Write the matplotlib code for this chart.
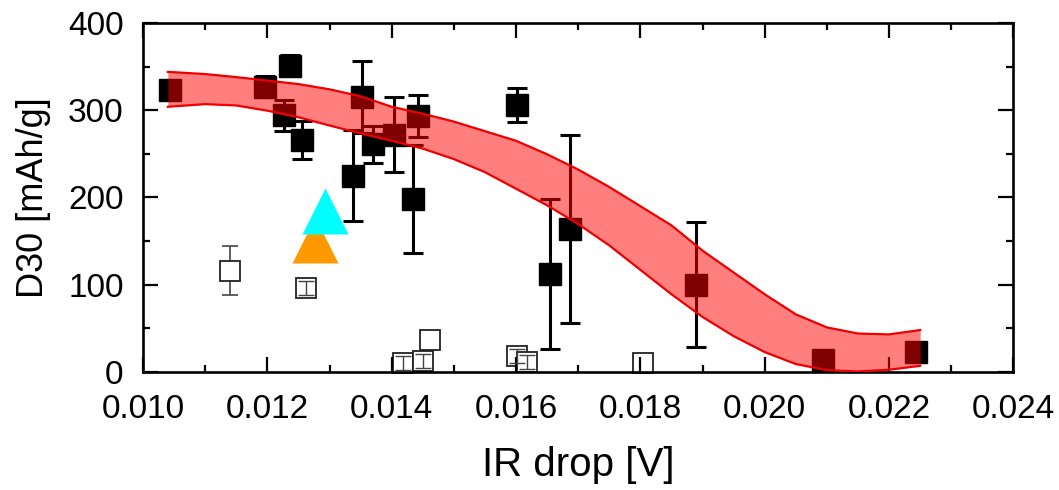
import matplotlib
matplotlib.use("Agg")
import matplotlib.pyplot as plt
from matplotlib.ticker import MultipleLocator, FormatStrFormatter

plt.rcParams['font.family'] = ['Liberation Sans', 'DejaVu Sans']

# filled squares (with error bars)
black_x = [0.01044, 0.01196, 0.01237, 0.01227, 0.01255, 0.01353, 0.01338, 0.01370, 0.01403,
           0.01442, 0.01434, 0.01602, 0.01655, 0.01686, 0.01890, 0.02094, 0.02244]
black_y = [323, 327, 351, 294, 266, 315, 225, 261, 272, 293, 198, 306, 112, 164, 100, 14, 23]
black_err = [0, 12, 12, 18, 22, 41, 52, 21, 43, 24, 62, 20, 86, 108, 72, 0, 0]

# open squares
open_x = [0.01140, 0.01263, 0.01418, 0.01450, 0.01461, 0.01602, 0.01617, 0.01804]
open_y = [116, 96, 10, 13, 37, 18, 11, 10]
open_err = [28, 8, 8, 8, 0, 8, 8, 0]

# triangles
cyan_pt = (0.01292, 184)
orange_pt = (0.01276, 151)

# confidence band of the fit
band_x = [0.0104, 0.0110, 0.0115, 0.0120, 0.0125, 0.0130, 0.0135, 0.0140, 0.0145, 0.0150,
          0.0155, 0.0160, 0.0165, 0.0170, 0.0175, 0.0180, 0.0185, 0.0190, 0.0195, 0.0200,
          0.0205, 0.0210, 0.0215, 0.0220, 0.0225]
band_hi = [344, 341.5, 338, 334, 330, 324, 316, 304, 296, 287,
           276, 265, 249.5, 232, 212, 190, 168, 139, 114, 89,
           66, 51, 44, 43, 48]
band_lo = [304, 307, 305.5, 299.5, 292, 282.5, 273.5, 265, 256, 244,
           229, 210, 191, 169.5, 145, 117, 89, 63, 41, 22.7,
           9, 2, 0.5, 2.5, 7]

fig = plt.figure(figsize=(10.59, 4.9), dpi=100)
ax = fig.add_axes([0.135, 0.241, 0.822, 0.712])

# open squares; the small error bars show on top of the square
big = [i for i, e in enumerate(open_err) if e > 10]
small = [i for i, e in enumerate(open_err) if 0 < e <= 10]
ax.errorbar([open_x[i] for i in big], [open_y[i] for i in big],
            yerr=[open_err[i] for i in big], fmt='none', ecolor='#444444',
            elinewidth=1.2, capsize=5.5, capthick=1.2, zorder=1)
ax.plot(open_x, open_y, 's', ms=15, mfc='white', mec='#222222', mew=1.3,
        ls='none', zorder=1.5, clip_on=False)
ax.errorbar([open_x[i] for i in small], [open_y[i] for i in small],
            yerr=[open_err[i] for i in small], fmt='none', ecolor='#444444',
            elinewidth=1.0, capsize=5.5, capthick=1.0, zorder=1.55, clip_on=False)

# triangles
ax.plot(*orange_pt, '^', ms=33, color='#FF9900', mec='none', zorder=1.6)
ax.plot(*cyan_pt, '^', ms=33, color='#00FFFF', mec='none', zorder=1.7)

# black squares
ax.errorbar(black_x, black_y, yerr=black_err, fmt='none', ecolor='black',
            elinewidth=2.2, capsize=7, capthick=2.2, zorder=2)
ax.plot(black_x, black_y, 's', ms=16, color='black', ls='none', zorder=2.1,
        clip_on=False)

# red band on top
ax.fill_between(band_x, band_lo, band_hi, color='#FF0000', alpha=0.5, lw=0, zorder=3)
ax.plot(band_x, band_hi, color='#EE0000', lw=1.6, zorder=3.1)
ax.plot(band_x, band_lo, color='#EE0000', lw=1.6, zorder=3.1)

ax.set_xlim(0.010, 0.024)
ax.set_ylim(0, 400)
ax.xaxis.set_major_locator(MultipleLocator(0.002))
ax.xaxis.set_minor_locator(MultipleLocator(0.001))
ax.xaxis.set_major_formatter(FormatStrFormatter('%.3f'))
ax.yaxis.set_major_locator(MultipleLocator(100))
ax.yaxis.set_minor_locator(MultipleLocator(50))

ax.tick_params(which='both', direction='in', top=True, right=True, width=1.6)
ax.tick_params(which='major', length=11, labelsize=24)
ax.tick_params(which='minor', length=5)
ax.tick_params(axis='x', which='major', pad=16)
ax.tick_params(axis='y', which='major', pad=14)
for s in ax.spines.values():
    s.set_linewidth(1.9)

ax.set_xlabel('IR drop [V]', fontsize=29, labelpad=15)
ax.set_ylabel('D30 [mAh/g]', fontsize=26, labelpad=12)

fig.savefig('out.png', dpi=100)
